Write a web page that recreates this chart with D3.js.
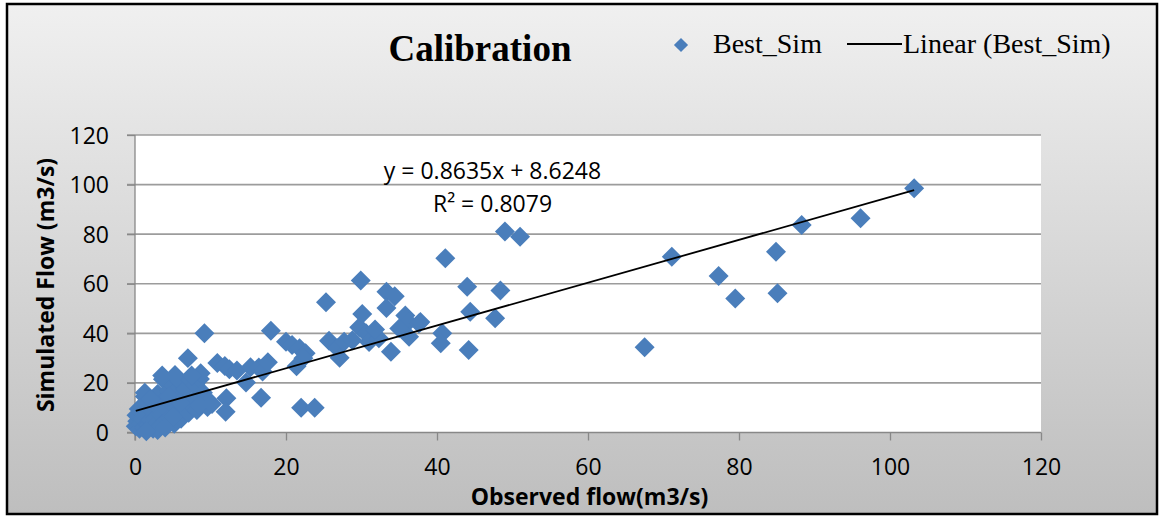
<!DOCTYPE html>
<html><head><meta charset="utf-8">
<script src="https://cdn.jsdelivr.net/npm/d3@7"></script>
<style>body{margin:0;background:#fff}</style>
</head><body><svg id="c" width="1159" height="516"></svg>
<script>
// ---- data ----
const observed = [
  0.1,0.3,0.2,0.6,0.8,0.5,1.0,1.2,1.3,1.5,1.6,1.8,2.0,2.2,2.4,2.5,2.7,2.9,3.0,3.1,3.3,3.5,3.7,3.8,4.0,4.2,4.4,4.6,4.8,5.0,
  5.2,5.4,5.6,5.8,5.9,6.1,6.3,6.5,6.7,7.0,7.1,7.3,7.4,7.8,8.0,8.2,8.6,8.7,9.0,9.2,9.6,9.8,3.6,5.3,7.5,1.3,2.0,4.5,6.0,3.0,
  1.5,4.0,5.0,8.5,
  10.9,11.9,12.5,13.5,14.7,15.3,16.4,16.9,17.6,16.7,12.1,12.0,18.0,20.0,20.8,21.8,22.6,22.3,21.4,22.0,23.8,10.2,
  25.3,25.7,26.8,27.1,27.7,28.8,29.7,29.9,30.1,30.6,31.0,32.3,33.3,34.4,33.3,33.9,35.8,36.2,37.6,36.3,35.0,31.8,
  37.8,40.7,40.5,41.1,44.0,44.4,44.2,47.7,48.4,49.0,51.0,
  67.5,71.1,77.3,79.5,84.9,85.1,88.3,96.1,103.2
];
const simulated = [
  2.5,4.5,7,1.5,3.5,9.5,5.5,2,14.5,7.5,11,3,5,9,1.5,12.5,6,3.5,15.5,10,2.5,7,21.5,13,4.5,9.5,16.7,6,11.5,19,
  3.5,16.3,8,13.5,20.8,5.5,10.5,14,17.5,30,8,21.2,11.5,13,19.2,9.1,21.6,23.9,16,40,10.3,12.5,23,23.2,23,16,13.5,14.5,12,1,
  0.5,2,6.5,11,
  28,26.8,25.5,25,20.2,26.3,26.2,24.6,28.3,14,13.8,8.4,41,36.6,35.3,34,32,30,26.7,10,10,11.5,
  52.5,37,34,30.2,36.6,37.2,42.5,61.3,47.8,40,36.5,38,56.8,55,50.2,32.6,47.2,44.6,44,38.6,42,41.5,
  44.6,40,36,70.3,58.8,48.7,33.3,46.1,57.3,81.1,79,
  34.4,70.9,63.1,54.1,72.9,56.2,83.7,86.4,98.5
];
const xTickValues = [0, 20, 40, 60, 80, 100, 120];
const yTickValues = [0, 20, 40, 60, 80, 100, 120];
const trendSlope = 0.8635;
const trendIntercept = 8.6248;
const rSquared = 0.8079;
const titleText = "Calibration";
const seriesName = "Best_Sim";
const trendName = "Linear (Best_Sim)";
const xTitle = "Observed flow(m3/s)";
const yTitle = "Simulated Flow (m3/s)";

// ---- layout ----
const svg = d3.select("#c");
const L = 135, R = 1041, T = 135, B = 432.5;
const x = d3.scaleLinear().domain([0, 120]).range([L, R]);
const y = d3.scaleLinear().domain([0, 120]).range([B, T]);
const blue = "#4a7ebb";
const sans = "'Open Sans', sans-serif";
const serif = "'Liberation Serif', 'Times New Roman', serif";

const defs = svg.append("defs");
const g = defs.append("linearGradient").attr("id", "bg").attr("x1", 0).attr("y1", 0).attr("x2", 0).attr("y2", 1);
g.append("stop").attr("offset", "0%").attr("stop-color", "#f0f0f0");
g.append("stop").attr("offset", "100%").attr("stop-color", "#bebebe");

svg.append("rect").attr("x", 7).attr("y", 4).attr("width", 1150).attr("height", 510)
  .attr("fill", "url(#bg)").attr("stroke", "#000").attr("stroke-width", 2.5);

svg.append("rect").attr("x", L).attr("y", T).attr("width", R - L).attr("height", B - T).attr("fill", "#fff");

// gridlines
svg.append("g").selectAll("line").data(yTickValues.filter(v => v > 0)).join("line")
  .attr("x1", L - 8).attr("x2", R).attr("y1", d => y(d)).attr("y2", d => y(d))
  .attr("stroke", "#9c9c9c").attr("stroke-width", 1.6);

// axes
const yAxis = svg.append("g").attr("transform", `translate(${L},0)`)
  .call(d3.axisLeft(y).tickValues(yTickValues).tickSize(8).tickPadding(18).tickFormat(d3.format("d")));
const xAxis = svg.append("g").attr("transform", `translate(0,${B})`)
  .call(d3.axisBottom(x).tickValues(xTickValues).tickSize(8).tickPadding(18).tickFormat(d3.format("d")));
[yAxis, xAxis].forEach(a => {
  a.select(".domain").remove();
  a.selectAll(".tick line").attr("stroke", "#888").attr("stroke-width", 1.3);
  a.selectAll("text").attr("font-family", sans).attr("font-size", 23).attr("fill", "#000");
});
yAxis.selectAll("text").attr("dy", "0.35em");
svg.append("line").attr("x1", L).attr("x2", L).attr("y1", T).attr("y2", B + 8).attr("stroke", "#888").attr("stroke-width", 1.3);
svg.append("line").attr("x1", L - 8).attr("x2", R).attr("y1", B).attr("y2", B).attr("stroke", "#888").attr("stroke-width", 1.3);

// markers
const diamond = d3.symbol().type(d3.symbolSquare).size(200);
svg.append("g").selectAll("path").data(observed.map((v, i) => [v, simulated[i]])).join("path")
  .attr("d", diamond)
  .attr("transform", d => `translate(${x(d[0])},${y(d[1])}) rotate(45)`)
  .attr("fill", blue);

// trendline
const xmin = d3.min(observed), xmax = d3.max(observed);
svg.append("path")
  .attr("d", d3.line().x(d => x(d)).y(d => y(trendSlope * d + trendIntercept))([xmin, xmax]))
  .attr("stroke", "#000").attr("stroke-width", 1.8).attr("fill", "none");

// equation
svg.append("text").attr("x", 492.5).attr("y", 179).attr("text-anchor", "middle")
  .attr("font-family", sans).attr("font-size", 23)
  .text(`y = ${trendSlope}x + ${trendIntercept}`);
svg.append("text").attr("x", 492.5).attr("y", 212).attr("text-anchor", "middle")
  .attr("font-family", sans).attr("font-size", 23)
  .text(`R² = ${rSquared}`);

// title
svg.append("text").attr("x", 480).attr("y", 61).attr("text-anchor", "middle")
  .attr("font-family", serif).attr("font-weight", "bold").attr("font-size", 37).text(titleText);

// legend
svg.append("path").attr("d", d3.symbol().type(d3.symbolSquare).size(100))
  .attr("transform", "translate(681,45) rotate(45)").attr("fill", blue);
svg.append("text").attr("x", 713).attr("y", 53).attr("font-family", serif).attr("font-size", 28).text(seriesName);
svg.append("line").attr("x1", 847).attr("x2", 902).attr("y1", 44).attr("y2", 44).attr("stroke", "#000").attr("stroke-width", 1.8);
svg.append("text").attr("x", 903).attr("y", 53).attr("font-family", serif).attr("font-size", 28).text(trendName);

// axis titles
svg.append("text").attr("x", 589.5).attr("y", 505).attr("text-anchor", "middle")
  .attr("font-family", sans).attr("font-weight", "bold").attr("font-size", 23).text(xTitle);
svg.append("text").attr("transform", "translate(54,285) rotate(-90)").attr("text-anchor", "middle")
  .attr("font-family", sans).attr("font-weight", "bold").attr("font-size", 23).text(yTitle);
</script></body></html>
